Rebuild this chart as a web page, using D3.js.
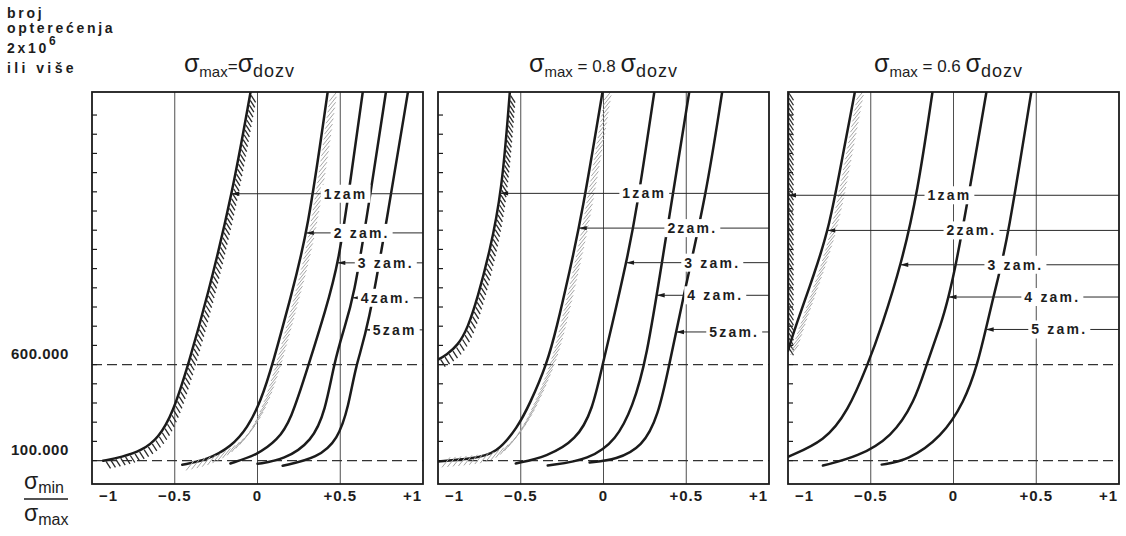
<!DOCTYPE html>
<html>
<head>
<meta charset="utf-8">
<script src="https://cdn.jsdelivr.net/npm/d3@7/dist/d3.min.js"></script>
<style>
body { margin:0; background:#fff; }
text { font-family:"Liberation Sans", Arial, sans-serif; fill:#1d1d1d; }
</style>
</head>
<body>
<svg id="chart"></svg>
<script>
// x axis = sigma_min / sigma_max
var xTicks = [-1, -0.5, 0, 0.5, 1];
var xTickLabels = ["−1", "−0.5", "0", "+0.5", "+1"];
var xGrid = [-0.5, 0, 0.5];

// y axis = number of load cycles, in thousands
var yDashed = [100, 600];
var yDashedLabels = ["100.000", "600.000"];
var yTicks = d3.range(100, 2000, 100);

var panelTitleMid = ["=", " = 0.8 ", " = 0.6 "];

// curves: [sigma_min/sigma_max, thousands of cycles]
// panel 1 : sigma_max = sigma_dozv
var p1Curve1 = [[-0.933,99],[-0.82,118],[-0.7,152],[-0.6,215],[-0.51,350],[-0.418,600],[-0.3,960],[-0.152,1490],[-0.042,2020]];
var p1Curve2 = [[-0.455,78],[-0.3,105],[-0.16,172],[-0.06,270],[0.02,410],[0.091,599],[0.2,950],[0.303,1286],[0.424,2020]];
var p1Curve3 = [[-0.164,85],[0,130],[0.121,208],[0.2,305],[0.309,599],[0.41,880],[0.491,1130],[0.565,1580],[0.636,2020]];
var p1Curve4 = [[0,83],[0.16,104],[0.33,200],[0.41,360],[0.461,600],[0.52,780],[0.582,948],[0.67,1420],[0.776,2020]];
var p1Curve5 = [[0.152,73],[0.364,115],[0.485,208],[0.55,380],[0.594,600],[0.667,781],[0.79,1400],[0.909,2020]];
// panel 2 : sigma_max = 0.8 sigma_dozv
var p2Curve1 = [[-1,626],[-0.95,650],[-0.88,700],[-0.82,790],[-0.76,950],[-0.69,1180],[-0.614,1497],[-0.566,2020]];
var p2Curve2 = [[-1,95],[-0.79,110],[-0.645,136],[-0.518,275],[-0.446,394],[-0.343,600],[-0.283,791],[-0.205,1085],[-0.13,1380],[-0.006,2020]];
var p2Curve3 = [[-0.53,85],[-0.343,120],[-0.163,208],[-0.066,363],[-0.006,600],[0.048,791],[0.139,1136],[0.2,1400],[0.307,2020]];
var p2Curve4 = [[-0.337,74],[-0.084,105],[0.078,208],[0.175,378],[0.259,621],[0.36,1170],[0.44,1600],[0.518,2020]];
var p2Curve5 = [[-0.084,90],[0.078,105],[0.235,172],[0.33,330],[0.398,600],[0.476,930],[0.62,1480],[0.717,2020]];
// panel 3 : sigma_max = 0.6 sigma_dozv
var p3Curve1 = [[-1,680],[-1,2020]];
var p3Curve2 = [[-1,672],[-0.958,791],[-0.837,1082],[-0.75,1320],[-0.68,1640],[-0.596,2020]];
var p3Curve3 = [[-1,120],[-0.777,202],[-0.639,355],[-0.518,600],[-0.434,798],[-0.313,1130],[-0.217,1497],[-0.127,2020]];
var p3Curve4 = [[-0.789,74],[-0.578,120],[-0.373,222],[-0.235,406],[-0.163,600],[-0.08,800],[0.0,1020],[0.199,2020]];
var p3Curve5 = [[-0.434,79],[-0.277,100],[-0.072,222],[0.066,406],[0.145,600],[0.199,798],[0.265,1038],[0.325,1242],[0.47,2020]];

// which curves carry hatching: "dark", "grey", or ""
var p1Hatch = ["dark", "grey", "", "", ""];
var p2Hatch = ["dark", "grey", "", "", ""];
var p3Hatch = ["dark", "grey", "", "", ""];

// label texts and where they sit (level in thousands, text start in x units)
var p1Labels = ["1zam", "2 zam.", "3 zam.", "4zam.", "5zam"];
var p1LabelLevels = [1490, 1286, 1130, 948, 781];
var p1LabelX = [0.4, 0.46, 0.606, 0.624, 0.697];
var p2Labels = ["1zam", "2zam.", "3 zam.", "4 zam.", "5zam."];
var p2LabelLevels = [1492, 1311, 1131, 961, 770];
var p2LabelX = [0.114, 0.386, 0.488, 0.506, 0.639];
var p3Labels = ["1zam", "2zam.", "3 zam.", "4 zam.", "5 zam."];
var p3LabelLevels = [1482, 1299, 1120, 952, 783];
var p3LabelX = [-0.157, -0.042, 0.205, 0.428, 0.47];

var ink = "#1b1b1b";

var svg = d3.select("#chart")
    .attr("width", 1126)
    .attr("height", 536);

svg.append("rect").attr("width", 1126).attr("height", 536).attr("fill", "#fff");

var plotTop = 92, plotBottom = 484, panelWidth = 331;
var panelLeft = [92, 438, 788];

var yScale = d3.scaleLinear()
    .domain([-22, 2020])
    .range([plotBottom, plotTop]);

var panels = [
    {curves:[p1Curve1,p1Curve2,p1Curve3,p1Curve4,p1Curve5], hatch:p1Hatch, labels:p1Labels, levels:p1LabelLevels, labelX:p1LabelX},
    {curves:[p2Curve1,p2Curve2,p2Curve3,p2Curve4,p2Curve5], hatch:p2Hatch, labels:p2Labels, levels:p2LabelLevels, labelX:p2LabelX},
    {curves:[p3Curve1,p3Curve2,p3Curve3,p3Curve4,p3Curve5], hatch:p3Hatch, labels:p3Labels, levels:p3LabelLevels, labelX:p3LabelX}
];

//short strokes along a path, used for the hatched limit curves
var drawHatch = function(g, node, kind)
{
    var L = node.getTotalLength();
    var dark = kind == "dark";
    var step = dark ? 5 : 5.5;
    for (var s = 2; s < L; s += step)
    {
        var p = node.getPointAtLength(s);
        var x1 = dark ? p.x + 1 : p.x + 2;
        var y1 = dark ? p.y + 1 : p.y + 6;
        g.append("line")
            .attr("x1", x1).attr("y1", y1)
            .attr("x2", x1 + (dark ? 4.5 : 8))
            .attr("y2", y1 + (dark ? 7 : -10))
            .attr("stroke", dark ? "#2a2a2a" : "#a6a6a6")
            .attr("stroke-width", dark ? 1.3 : 1);
    }
}

//point on a path closest to a given pixel height
var pointAtY = function(node, py)
{
    var L = node.getTotalLength();
    var best = null;
    for (var s = 0; s <= L; s += 0.5)
    {
        var p = node.getPointAtLength(s);
        if (best == null || Math.abs(p.y - py) < Math.abs(best.y - py)) best = p;
    }
    return best;
}

var line = d3.line().curve(d3.curveBasis);

panels.forEach(function(panel, i)
{
    var x0 = panelLeft[i];
    var xScale = d3.scaleLinear()
        .domain([-1, 1])
        .range([x0, x0 + panelWidth]);
    line.x(function(d) { return xScale(d[0]); })
        .y(function(d) { return yScale(d[1]); });

    var g = svg.append("g");

    g.append("clipPath").attr("id", "clip" + i)
        .append("rect")
        .attr("x", x0).attr("y", plotTop)
        .attr("width", panelWidth).attr("height", plotBottom - plotTop);

    // grid
    g.selectAll(".grid").data(xGrid).enter().append("line")
        .attr("x1", xScale).attr("x2", xScale)
        .attr("y1", plotTop).attr("y2", plotBottom)
        .attr("stroke", "#3a3a3a").attr("stroke-width", 0.9);

    g.selectAll(".dash").data(yDashed).enter().append("line")
        .attr("x1", x0).attr("x2", x0 + panelWidth)
        .attr("y1", yScale).attr("y2", yScale)
        .attr("stroke", "#333").attr("stroke-width", 1.1)
        .attr("stroke-dasharray", "10,5");

    g.selectAll(".ytick").data(yTicks).enter().append("line")
        .attr("x1", x0).attr("x2", x0 + 5)
        .attr("y1", yScale).attr("y2", yScale)
        .attr("stroke", ink).attr("stroke-width", 1.2);

    // curves
    var cg = g.append("g").attr("clip-path", "url(#clip" + i + ")");
    var nodes = panel.curves.map(function(c, k)
    {
        var path = cg.append("path")
            .attr("d", line(c))
            .attr("fill", "none")
            .attr("stroke", ink)
            .attr("stroke-width", 2.5)
            .attr("stroke-linecap", "round");
        if (panel.hatch[k]) drawHatch(cg, path.node(), panel.hatch[k]);
        return path.node();
    });

    // label leaders with arrowheads
    panel.labels.forEach(function(lab, k)
    {
        var py = yScale(panel.levels[k]);
        var tip = pointAtY(nodes[k], py);
        var tx = Math.max(tip.x, x0);
        g.append("line")
            .attr("x1", tx).attr("x2", x0 + panelWidth)
            .attr("y1", py).attr("y2", py)
            .attr("stroke", "#2a2a2a").attr("stroke-width", 1);
        g.append("path")
            .attr("d", "M" + tx + "," + py + "l8,-2.2l0,4.4z")
            .attr("fill", ink);

        var t = g.append("text")
            .attr("x", xScale(panel.labelX[k]))
            .attr("y", py + 5)
            .attr("font-size", 14)
            .attr("font-weight", "bold")
            .attr("letter-spacing", 2.2)
            .text(lab);
        var bb = t.node().getBBox();
        g.insert("rect", function() { return t.node(); })
            .attr("x", bb.x - 3).attr("y", bb.y - 1)
            .attr("width", bb.width + 6).attr("height", bb.height + 2)
            .attr("fill", "#fff");
    });

    // frame
    g.append("rect")
        .attr("x", x0).attr("y", plotTop)
        .attr("width", panelWidth).attr("height", plotBottom - plotTop)
        .attr("fill", "none").attr("stroke", ink).attr("stroke-width", 1.8);

    // x tick labels, end ones pulled inside the frame
    g.selectAll(".xl").data(xTicks).enter().append("text")
        .attr("x", function(d) { return d == -1 ? xScale(d) + 7 : d == 1 ? xScale(d) - 1 : xScale(d); })
        .attr("y", 501)
        .attr("text-anchor", function(d) { return d == -1 ? "start" : d == 1 ? "end" : "middle"; })
        .attr("font-size", 15)
        .attr("font-weight", "bold")
        .attr("letter-spacing", 1)
        .text(function(d, j) { return xTickLabels[j]; });

    // title
    var tt = svg.append("text")
        .attr("x", x0 + panelWidth / 2 + (i == 0 ? -18 : i == 2 ? -5 : 0))
        .attr("y", 72)
        .attr("text-anchor", "middle");
    tt.append("tspan").attr("font-size", 25).text("σ");
    tt.append("tspan").attr("font-size", 15).attr("dy", 5).text("max");
    tt.append("tspan").attr("font-size", 17).attr("dy", -5).text(panelTitleMid[i]);
    tt.append("tspan").attr("font-size", 25).text("σ");
    tt.append("tspan").attr("font-size", 18).attr("dy", 5).attr("letter-spacing", 1).text("dozv");
});

// left hand labels
svg.selectAll(".yl").data(yDashed).enter().append("text")
    .attr("x", 11)
    .attr("y", function(d) { return yScale(d) - 6; })
    .attr("font-size", 15)
    .attr("font-weight", "bold")
    .attr("letter-spacing", 0.5)
    .text(function(d, j) { return yDashedLabels[j]; });

var head = ["broj", "opterećenja", "2x10", "ili više"];
var headY = [18, 33, 53, 73];
head.forEach(function(h, j)
{
    var t = svg.append("text")
        .attr("x", 7).attr("y", headY[j])
        .attr("font-size", 14)
        .attr("font-weight", "bold")
        .attr("letter-spacing", j == 3 ? 3.4 : 2.7)
        .text(h);
    if (j == 2) t.append("tspan").attr("dy", -8).attr("font-size", 12).text("6");
});

// sigma_min / sigma_max fraction
var num = svg.append("text").attr("x", 24).attr("y", 489);
num.append("tspan").attr("font-size", 23).text("σ");
num.append("tspan").attr("font-size", 16).attr("dy", 4).text("min");
svg.append("line")
    .attr("x1", 24).attr("x2", 68)
    .attr("y1", 499).attr("y2", 499)
    .attr("stroke", ink).attr("stroke-width", 1.5);
var den = svg.append("text").attr("x", 24).attr("y", 521);
den.append("tspan").attr("font-size", 23).text("σ");
den.append("tspan").attr("font-size", 16).attr("dy", 4).text("max");
</script>
</body>
</html>
